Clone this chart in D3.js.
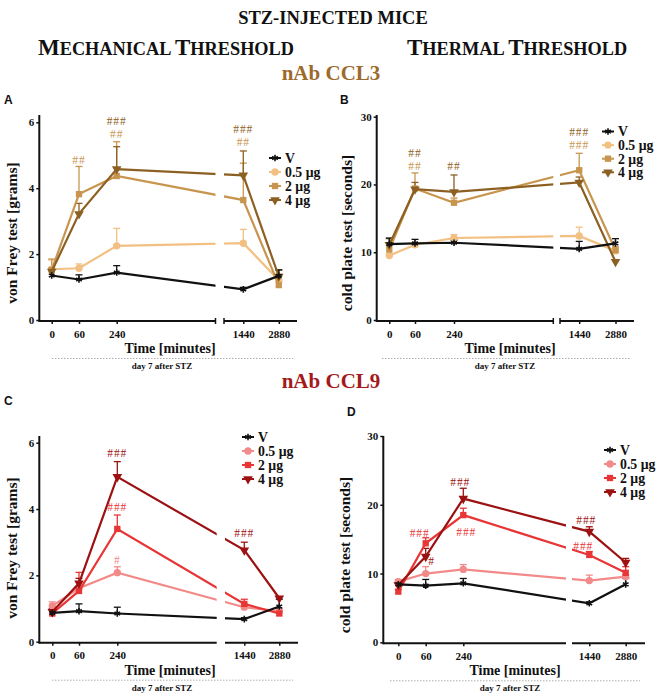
<!DOCTYPE html>
<html><head><meta charset="utf-8">
<script src="https://cdn.jsdelivr.net/npm/d3@7"></script>
<style>body{margin:0;background:#fff}</style>
</head><body><svg id="c" width="661" height="694"></svg>
<script>
// ---------- DATA ----------
const times = [0, 60, 240, 1440, 2880];
const timeLabels = ["0", "60", "240", "1440", "2880"];
const seriesNames = ["V", "0.5 μg", "2 μg", "4 μg"];
const mechTicks = [0, 2, 4, 6];
const thermTicks = [0, 10, 20, 30];

// Panel A: nAb CCL3, von Frey [grams]
const A_V = [1.35, 1.23, 1.44, 0.93, 1.34], A_V_err = [0.17, 0.14, 0.21, 0.06, 0.18];
const A_05 = [1.54, 1.57, 2.25, 2.33, 1.21], A_05_err = [0.28, 0.13, 0.53, 0.42, 0.10];
const A_2 = [1.52, 3.82, 4.37, 3.64, 1.06], A_2_err = [0.33, 0.84, 1.04, 1.12, 0.10];
const A_4 = [1.47, 3.22, 4.58, 4.39, 1.32], A_4_err = [0.10, 0.32, 0.68, 0.74, 0.20];
const A_marks = [[60, 4.85, "##", 2], [240, 6.04, "###", 3], [240, 5.64, "##", 2], [1440, 5.81, "###", 3], [1440, 5.40, "##", 2]];

// Panel B: nAb CCL3, cold plate [seconds]
const B_V = [11.2, 11.3, 11.4, 10.5, 11.3], B_V_err = [0.9, 0.6, 0.4, 1.1, 0.7];
const B_05 = [9.5, 11.1, 12.1, 12.4, 10.2], B_05_err = [0.3, 0.3, 0.5, 1.3, 0.4];
const B_2 = [10.4, 19.4, 17.3, 22.1, 10.3], B_2_err = [0.6, 2.3, 0.7, 2.5, 0.5];
const B_4 = [11.1, 19.3, 18.9, 20.3, 8.6], B_4_err = [0.9, 1.0, 2.5, 0.8, 0.3];
const B_marks = [[60, 24.7, "##", 3], [60, 22.8, "##", 2], [240, 22.8, "##", 3], [1440, 27.8, "###", 3], [1440, 25.9, "###", 2]];

// Panel C: nAb CCL9, von Frey [grams]
const C_V = [0.87, 0.92, 0.85, 0.68, 1.06], C_V_err = [0.13, 0.22, 0.19, 0.04, 0.22];
const C_05 = [1.08, 1.61, 2.08, 1.04, 0.92], C_05_err = [0.12, 0.20, 0.18, 0.10, 0.08];
const C_2 = [0.85, 1.53, 3.40, 1.14, 0.85], C_2_err = [0.10, 0.56, 0.42, 0.14, 0.06];
const C_4 = [0.90, 1.76, 4.97, 2.76, 1.31], C_4_err = [0.08, 0.15, 0.46, 0.24, 0.05];
const C_marks = [[240, 5.70, "###", 3], [240, 4.07, "###", 2], [240, 2.46, "#", 1], [1440, 3.28, "###", 3]];

// Panel D: nAb CCL9, cold plate [seconds]
const D_V = [8.43, 8.24, 8.58, 5.67, 8.43], D_V_err = [0.3, 0.9, 0.7, 0.2, 0.9];
const D_05 = [8.82, 10.0, 10.6, 8.97, 9.55], D_05_err = [0.3, 1.0, 0.7, 0.8, 0.3];
const D_2 = [7.37, 14.4, 18.5, 12.7, 10.1], D_2_err = [0.3, 0.8, 1.0, 0.5, 0.9];
const D_4 = [8.34, 12.46, 20.9, 16.1, 11.6], D_4_err = [0.3, 1.2, 1.5, 0.7, 0.6];
const D_marks = [[60, 15.9, "###", 2, -6], [60, 11.9, "#", 3, 6], [240, 23.3, "###", 3, -3], [240, 16.1, "###", 2, 3], [1440, 17.8, "###", 3, -3], [1440, 14.0, "###", 2, -6]];

// ---------- STYLE ----------
const ccl3Colors = ["#111111", "#f3c084", "#c8954f", "#8c6023"];
const ccl9Colors = ["#111111", "#f38a8a", "#e83535", "#9c1212"];
const symbols = [d3.symbolAsterisk, d3.symbolCircle, d3.symbolSquare, d3.symbolTriangle];
const serif = "'Liberation Serif','Times New Roman',serif";
const sans = "'Liberation Sans',Arial,sans-serif";

const svg = d3.select("#c");

function txt(x, y, s, size, opts = {}) {
  return svg.append("text").attr("x", x).attr("y", y).text(s)
    .attr("font-family", opts.family || serif).attr("font-size", size)
    .attr("font-weight", opts.weight || "bold")
    .attr("text-anchor", opts.anchor || "middle")
    .attr("fill", opts.fill || "#111");
}

// Titles
txt(333, 24, "STZ-INJECTED MICE", 18.5);
function smallCaps(x, y, words, big, small) {
  const t = svg.append("text").attr("x", x).attr("y", y).attr("font-family", serif)
    .attr("font-weight", "bold").attr("fill", "#111");
  words.forEach((w, i) => {
    t.append("tspan").attr("font-size", big).text(w[0]);
    t.append("tspan").attr("font-size", small).text(w.slice(1).toUpperCase() + (i < words.length - 1 ? " " : ""));
  });
}
smallCaps(38, 55, ["Mechanical", "Threshold"], 23, 18.3);
smallCaps(407, 55, ["Thermal", "Threshold"], 23, 18.3);
txt(331, 80, "nAb CCL3", 21, { fill: "#9c6b2c" });
txt(331, 388, "nAb CCL9", 21, { fill: "#a31a1a" });

function panel(cfg) {
  const g = svg.append("g");
  const x = d3.scaleLinear().domain(times).range(cfg.xr);
  const y = d3.scaleLinear().domain([0, cfg.yMax]).range([cfg.y0, cfg.yTop]);
  const axY = cfg.y0 + 1;

  // letter
  txt(cfg.letter[1], cfg.letter[2], cfg.letter[0], 12, { family: sans, anchor: "start" });

  // y axis
  const ya = g.append("g").attr("transform", `translate(${cfg.ax},0)`)
    .call(d3.axisLeft(y).tickValues(cfg.yTicks).tickSize(3).tickPadding(2).tickFormat(d3.format("d")));
  ya.select(".domain").remove();
  ya.selectAll(".tick line").attr("stroke", "#111").attr("stroke-width", 1.5);
  ya.selectAll(".tick text").attr("font-family", serif).attr("font-weight", "bold")
    .attr("font-size", 11).attr("fill", "#111");
  g.append("line").attr("x1", cfg.ax).attr("x2", cfg.ax).attr("y1", axY + 1).attr("y2", cfg.axTop)
    .attr("stroke", "#111").attr("stroke-width", 2);

  // x axis (broken)
  const segs = [[times.slice(0, 3), cfg.ax, cfg.brk[0]], [times.slice(3), cfg.brk[1], cfg.xEnd]];
  segs.forEach(([tv, a, b], si) => {
    const xa = g.append("g").attr("transform", `translate(0,${axY})`)
      .call(d3.axisBottom(x).tickValues(tv).tickSize(3).tickPadding(6)
        .tickFormat(d => timeLabels[times.indexOf(d)]));
    xa.select(".domain").remove();
    xa.selectAll(".tick line").attr("stroke", "#111").attr("stroke-width", 1.5);
    xa.selectAll(".tick text").attr("font-family", serif).attr("font-weight", "bold")
      .attr("font-size", 11).attr("fill", "#111");
    g.append("line").attr("x1", a).attr("x2", b).attr("y1", axY).attr("y2", axY)
      .attr("stroke", "#111").attr("stroke-width", 2);
    if (cfg.caps) {
      const cx = si === 0 ? b : a;
      g.append("line").attr("x1", cx).attr("x2", cx).attr("y1", axY - 3).attr("y2", axY + 3)
        .attr("stroke", "#111").attr("stroke-width", 1.5);
    }
  });

  // axis titles
  txt(cfg.timeX, axY + 32, "Time [minutes]", 14);
  g.append("line").attr("x1", cfg.dot[0]).attr("x2", cfg.dot[1]).attr("y1", axY + 37.5).attr("y2", axY + 37.5)
    .attr("stroke", "#999").attr("stroke-width", 0.8).attr("stroke-dasharray", "1.5,1.5");
  txt(cfg.dayX, axY + 48, "day 7 after STZ", 9);
  svg.append("text").attr("transform", `translate(${cfg.ylab[0]},${cfg.ylab[1]}) rotate(-90)`)
    .attr("text-anchor", "middle").attr("font-family", serif).attr("font-weight", "bold")
    .attr("font-size", 15.5).attr("fill", "#111").text(cfg.ylabel);

  // clip for broken lines
  const cid = "clip" + cfg.letter[0];
  const cp = svg.append("clipPath").attr("id", cid);
  cp.append("rect").attr("x", cfg.ax - 20).attr("y", 0).attr("width", cfg.brk[0] - cfg.ax + 20).attr("height", 694);
  cp.append("rect").attr("x", cfg.brk[1]).attr("y", 0).attr("width", cfg.xEnd - cfg.brk[1] + 20).attr("height", 694);

  const line = d3.line().x((d, i) => x(times[i])).y(d => y(d));
  const order = [1, 2, 3, 0];
  // error bars
  order.forEach(si => {
    const m = cfg.series[si], e = cfg.errs[si], col = cfg.colors[si];
    m.forEach((v, i) => {
      const xx = x(times[i]), y1 = y(v), y2 = y(v + e[i]);
      g.append("line").attr("x1", xx).attr("x2", xx).attr("y1", y1).attr("y2", y2)
        .attr("stroke", col).attr("stroke-width", 1.3);
      g.append("line").attr("x1", xx - 3.5).attr("x2", xx + 3.5).attr("y1", y2).attr("y2", y2)
        .attr("stroke", col).attr("stroke-width", 1.3);
    });
  });
  order.forEach(si => {
    const m = cfg.series[si], col = cfg.colors[si];
    g.append("path").datum(m).attr("d", line).attr("fill", "none").attr("stroke", col)
      .attr("stroke-width", 2.2).attr("clip-path", `url(#${cid})`);
    m.forEach((v, i) => drawMarker(g, x(times[i]), y(v), si, col));
  });

  // significance marks
  cfg.marks.forEach(mk => {
    g.append("text").attr("x", x(mk[0]) + (mk[4] || 0)).attr("y", y(mk[1])).attr("dy", "0.36em")
      .attr("text-anchor", "middle").attr("font-family", serif).attr("font-size", 11.5)
      .attr("letter-spacing", 0.9).attr("fill", cfg.colors[mk[3]]).text(mk[2]);
  });

  // legend
  seriesNames.forEach((n, i) => {
    const ly = cfg.leg[1] + i * cfg.leg[2], lx = cfg.leg[0];
    g.append("line").attr("x1", lx - 6).attr("x2", lx + 6).attr("y1", ly).attr("y2", ly)
      .attr("stroke", cfg.colors[i]).attr("stroke-width", 2);
    drawMarker(g, lx, ly, i, cfg.colors[i]);
    g.append("text").attr("x", lx + 10).attr("y", ly).attr("dy", "0.35em").attr("font-family", serif)
      .attr("font-weight", "bold").attr("font-size", 13.8).attr("fill", "#111").text(n);
  });
}

function drawMarker(g, cx, cy, si, col) {
  const p = g.append("path").attr("transform", `translate(${cx},${cy})` + (si === 3 ? " rotate(180)" : ""));
  if (si === 0) {
    p.attr("d", d3.symbol(symbols[0], 30)()).attr("fill", "none").attr("stroke", col).attr("stroke-width", 1.6);
  } else {
    p.attr("d", d3.symbol(symbols[si], si === 1 ? 42 : 40)()).attr("fill", col);
  }
}

panel({
  letter: ["A", 4, 104], series: [A_V, A_05, A_2, A_4], errs: [A_V_err, A_05_err, A_2_err, A_4_err],
  marks: A_marks, colors: ccl3Colors, ax: 39.3, y0: 320, yTop: 122.3, yMax: 6, axTop: 115, yTicks: mechTicks,
  xr: [51.7, 79, 116.7, 243.3, 278.8], brk: [215.5, 224], xEnd: 297, caps: true,
  timeX: 170, dayX: 162, dot: [52, 293], ylab: [17, 233], ylabel: "von Frey test [grams]", leg: [275, 158, 14]
});
panel({
  letter: ["B", 340, 104], series: [B_V, B_05, B_2, B_4], errs: [B_V_err, B_05_err, B_2_err, B_4_err],
  marks: B_marks, colors: ccl3Colors, ax: 376.7, y0: 320, yTop: 116.7, yMax: 30, axTop: 115, yTicks: thermTicks,
  xr: [389.3, 415, 454, 579.2, 615.5], brk: [553.3, 560], xEnd: 634, caps: true,
  timeX: 510, dayX: 505, dot: [382, 630], ylab: [352, 233], ylabel: "cold plate test [seconds]", leg: [608, 131.5, 13.6]
});
panel({
  letter: ["C", 4, 405], series: [C_V, C_05, C_2, C_4], errs: [C_V_err, C_05_err, C_2_err, C_4_err],
  marks: C_marks, colors: ccl9Colors, ax: 39.3, y0: 641.7, yTop: 442.7, yMax: 6, axTop: 436, yTicks: mechTicks,
  xr: [52.3, 79, 117.3, 244.3, 279.3], brk: [216.7, 225], xEnd: 298, caps: false,
  timeX: 170, dayX: 162, dot: [52, 293], ylab: [17, 548], ylabel: "von Frey test [grams]", leg: [248, 437, 14]
});
panel({
  letter: ["D", 347, 416], series: [D_V, D_05, D_2, D_4], errs: [D_V_err, D_05_err, D_2_err, D_4_err],
  marks: D_marks, colors: ccl9Colors, ax: 383.3, y0: 642.3, yTop: 436, yMax: 30, axTop: 436, yTicks: thermTicks,
  xr: [398.3, 425.7, 463.3, 589.3, 625.7], brk: [566, 572], xEnd: 645, caps: false,
  timeX: 515, dayX: 510, dot: [390, 640], ylab: [350, 555], ylabel: "cold plate test [seconds]", leg: [610, 450, 14]
});
</script></body></html>
